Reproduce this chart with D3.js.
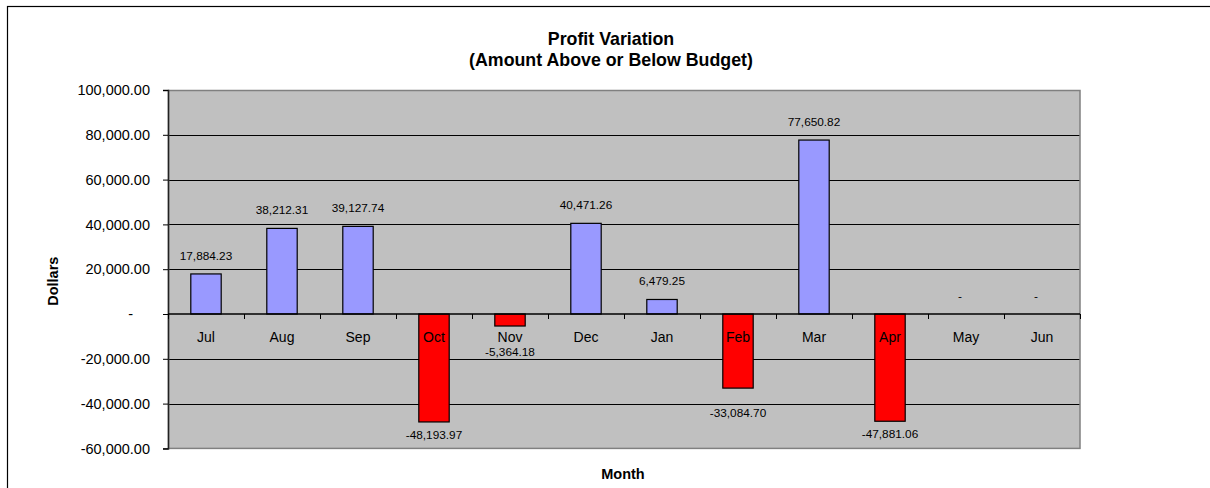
<!DOCTYPE html>
<html>
<head>
<meta charset="utf-8">
<script src="https://cdn.jsdelivr.net/npm/d3@7"></script>
<style>
	body { margin: 0; background: #fff; }
	svg { display: block; font-family: 'Liberation Sans', Arial, sans-serif; }
</style>
</head>
<body>
<div class="canvas"></div>
<script>
// data
const months = ['Jul', 'Aug', 'Sep', 'Oct', 'Nov', 'Dec', 'Jan', 'Feb', 'Mar', 'Apr', 'May', 'Jun'];
const variation = [17884.23, 38212.31, 39127.74, -48193.97, -5364.18, 40471.26, 6479.25, -33084.70, 77650.82, -47881.06, 0, 0];
const yTicks = [-60000, -40000, -20000, 0, 20000, 40000, 60000, 80000, 100000];

const data = months.map((m, i) => ({ month: m, value: variation[i] }));

const svg = d3.select('.canvas')
	.append('svg')
	.attr('width', 1210)
	.attr('height', 488);

// outer chart frame (right / bottom edges run off the picture)
svg.append('rect')
	.attr('x', 7.5)
	.attr('y', 6.5)
	.attr('width', 1230)
	.attr('height', 500)
	.attr('fill', '#fff')
	.attr('stroke', '#000')
	.attr('stroke-width', 1.2);

const margin = { top: 90, right: 130, bottom: 40, left: 168 };
const graphWidth = 1210 - margin.left - margin.right;
const graphHeight = 448.4 - margin.top;

const graph = svg.append('g')
	.attr('transform', `translate(${margin.left},${margin.top})`);

// scales
const x = d3.scaleBand()
	.domain(months)
	.range([0, graphWidth])
	.paddingInner(0.6)
	.paddingOuter(0.3);

const y = d3.scaleLinear()
	.domain([d3.min(yTicks), d3.max(yTicks)])
	.range([graphHeight, 0]);

const locale = d3.formatLocale({ decimal: '.', thousands: ',', grouping: [3], currency: ['$', ''], minus: '-' });
const fmt = locale.format(',.2f');
const acct = d => d === 0 ? '-' : fmt(d);

const gridValues = yTicks.filter(d => d !== 0 && d !== d3.min(yTicks) && d !== d3.max(yTicks));

// plot area
graph.append('rect')
	.attr('width', graphWidth)
	.attr('height', graphHeight)
	.attr('fill', '#c0c0c0');

// gridlines
graph.append('g')
	.selectAll('line')
	.data(gridValues)
	.enter()
	.append('line')
	.attr('x1', 0)
	.attr('x2', graphWidth)
	.attr('y1', d => Math.round(y(d)) + 0.5)
	.attr('y2', d => Math.round(y(d)) + 0.5)
	.attr('stroke', '#000')
	.attr('stroke-width', 1);

// plot border
graph.append('rect')
	.attr('x', 0.5)
	.attr('y', 0.5)
	.attr('width', graphWidth - 0.5)
	.attr('height', graphHeight - 0.5)
	.attr('fill', 'none')
	.attr('stroke', '#808080')
	.attr('stroke-width', 1.5);

// y axis
const yAxis = d3.axisLeft(y)
	.tickValues(yTicks)
	.tickSize(5)
	.tickPadding(13)
	.tickFormat(acct);

const yAxisGroup = graph.append('g').call(yAxis);
yAxisGroup.select('.domain').attr('stroke', '#222').attr('stroke-width', 1.5);
yAxisGroup.selectAll('.tick line').attr('stroke', '#000');
yAxisGroup.selectAll('text')
	.attr('fill', '#000')
	.attr('font-size', '14.5px')
	.attr('font-family', 'Liberation Sans, Arial, sans-serif');
yAxisGroup.selectAll('.tick')
	.filter(d => d === 0)
	.select('text')
	.attr('dx', -17);

// bars
graph.selectAll('rect.bar')
	.data(data)
	.enter()
	.append('rect')
	.attr('class', 'bar')
	.attr('x', d => x(d.month))
	.attr('width', x.bandwidth())
	.attr('y', d => y(Math.max(0, d.value)))
	.attr('height', d => Math.abs(y(d.value) - y(0)))
	.attr('fill', d => d.value < 0 ? '#ff0000' : '#9999ff')
	.attr('stroke', '#000')
	.attr('stroke-width', 1.2);

// zero axis with ticks between months
const xAxisGroup = graph.append('g')
	.attr('transform', `translate(0,${y(0)})`);

xAxisGroup.append('line')
	.attr('x1', 0)
	.attr('x2', graphWidth)
	.attr('stroke', '#000')
	.attr('stroke-width', 1.5);

const step = x.step();
xAxisGroup.selectAll('line.sep')
	.data(d3.range(months.length + 1))
	.enter()
	.append('line')
	.attr('class', 'sep')
	.attr('x1', i => Math.round(i * step) + 0.5)
	.attr('x2', i => Math.round(i * step) + 0.5)
	.attr('y1', 0)
	.attr('y2', 5)
	.attr('stroke', '#000');

xAxisGroup.selectAll('text')
	.data(months)
	.enter()
	.append('text')
	.attr('x', d => x(d) + x.bandwidth() / 2)
	.attr('y', 27.5)
	.attr('text-anchor', 'middle')
	.attr('font-size', '14px')
	.attr('fill', '#000')
	.text(d => d);

// label baseline: clear of the month names, pushed below a gridline it would sit on
const labelY = d => {
	let b = d.value < 0
		? Math.max(y(d.value) + 17, y(0) + 42)
		: y(d.value) - 14;
	const hit = gridValues.map(y).find(g => g > b - 10 && g < b + 1);
	if (hit !== undefined && d.value < 0) b = hit + 13;
	return b;
};

graph.selectAll('text.value')
	.data(data)
	.enter()
	.append('text')
	.attr('class', 'value')
	.attr('x', d => x(d.month) + x.bandwidth() / 2)
	.attr('dx', d => d.value === 0 ? -6 : 0)
	.attr('y', labelY)
	.attr('text-anchor', 'middle')
	.attr('font-size', '11.8px')
	.attr('fill', '#000')
	.text(d => acct(d.value));

// titles
const title = svg.append('text')
	.attr('x', 611)
	.attr('text-anchor', 'middle')
	.attr('font-weight', 'bold')
	.attr('font-size', '17.8px')
	.attr('fill', '#000');
title.append('tspan').attr('x', 611).attr('y', 44.5).text('Profit Variation');
title.append('tspan').attr('x', 611).attr('y', 66).text('(Amount Above or Below Budget)');

svg.append('text')
	.attr('transform', `translate(58,${margin.top + y(20000) + 12}) rotate(-90)`)
	.attr('text-anchor', 'middle')
	.attr('font-weight', 'bold')
	.attr('font-size', '14.5px')
	.attr('fill', '#000')
	.text('Dollars');

svg.append('text')
	.attr('x', 623)
	.attr('y', 479)
	.attr('text-anchor', 'middle')
	.attr('font-weight', 'bold')
	.attr('font-size', '14.5px')
	.attr('fill', '#000')
	.text('Month');
</script>
</body>
</html>
